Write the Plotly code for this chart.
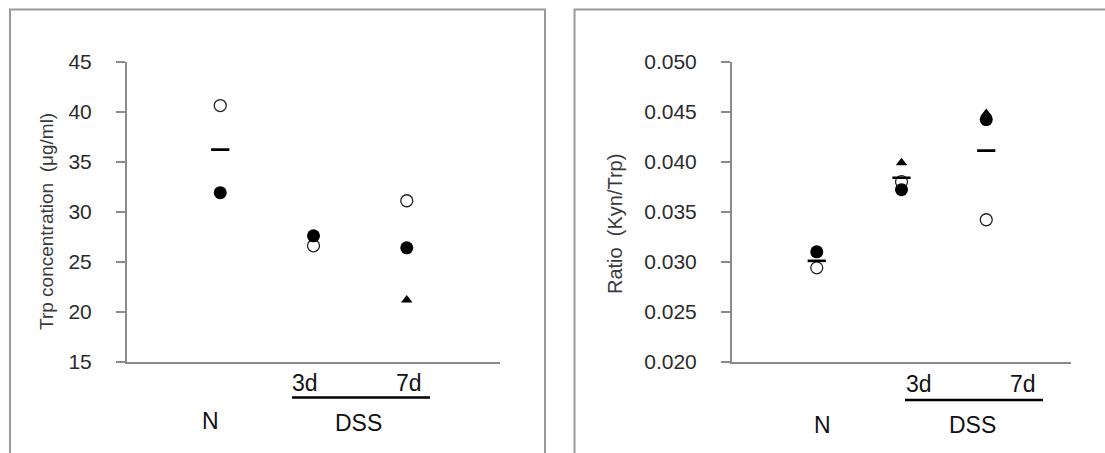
import plotly.graph_objects as go

W, H = 1105, 453

# Groups along the x axis
groups = ["N", "3d", "7d"]

# Trp concentration (ug/ml), one value per animal symbol
trp_open = [40.6, 26.6, 31.1]
trp_filled = [31.9, 27.6, 26.4]
trp_triangle = [None, None, 21.2]
trp_mean = [36.2, None, None]

# Kyn/Trp ratio
ratio_open = [0.0294, 0.0380, 0.0342]
ratio_filled = [0.0310, 0.0372, 0.0442]
ratio_triangle = [None, 0.0399, 0.0448]
ratio_mean = [0.0301, 0.0384, 0.0411]

y_ticks_trp = [15, 20, 25, 30, 35, 40, 45]
y_ticks_ratio = [0.020, 0.025, 0.030, 0.035, 0.040, 0.045, 0.050]


def px(x):
    return x / W


def py(y):
    return 1 - y / H


AXIS_GREY = "#8a8a8a"
FONT = "Liberation Sans, Arial, sans-serif"

fig = go.Figure()


def add_panel(xa, ya, open_v, filled_v, tri_v, mean_v):
    fig.add_trace(go.Scatter(
        x=groups, y=tri_v, mode="markers", xaxis=xa, yaxis=ya,
        marker=dict(symbol="triangle-up", size=10, color="#000000"),
        showlegend=False, hoverinfo="skip"))
    fig.add_trace(go.Scatter(
        x=groups, y=open_v, mode="markers", xaxis=xa, yaxis=ya,
        marker=dict(symbol="circle", size=12, color="#ffffff",
                    line=dict(color="#222222", width=1.3)),
        showlegend=False, hoverinfo="skip"))
    fig.add_trace(go.Scatter(
        x=groups, y=filled_v, mode="markers", xaxis=xa, yaxis=ya,
        marker=dict(symbol="circle", size=13, color="#000000",
                    line=dict(width=0)),
        showlegend=False, hoverinfo="skip"))
    fig.add_trace(go.Scatter(
        x=groups, y=mean_v, mode="markers", xaxis=xa, yaxis=ya,
        marker=dict(symbol="line-ew", size=13,
                    line=dict(color="#000000", width=2.6)),
        showlegend=False, hoverinfo="skip"))


add_panel("x", "y", trp_open, trp_filled, trp_triangle, trp_mean)
add_panel("x2", "y2", ratio_open, ratio_filled, ratio_triangle, ratio_mean)

ydom = [py(362), py(61.5)]
xcommon = dict(type="category", categoryarray=groups, range=[-1, 3],
               showgrid=False, zeroline=False, showticklabels=False,
               ticks="", showline=True, linecolor=AXIS_GREY, linewidth=2,
               fixedrange=True, automargin=False)
ycommon = dict(showgrid=False, zeroline=False, ticks="outside", ticklen=9,
               tickwidth=2, tickcolor=AXIS_GREY, showline=True,
               linecolor=AXIS_GREY, linewidth=2,
               tickfont=dict(family=FONT, size=21, color="#2b2b2b"),
               ticklabelstandoff=20, fixedrange=True, automargin=False)

fig.update_layout(
    template="none",
    width=W, height=H,
    margin=dict(l=0, r=0, t=0, b=0, pad=0, autoexpand=False),
    paper_bgcolor="#ffffff", plot_bgcolor="#ffffff",
    xaxis=dict(domain=[px(127), px(500)], anchor="y", **xcommon),
    yaxis=dict(domain=ydom, anchor="x", range=[15, 45],
               tickvals=y_ticks_trp, **ycommon),
    xaxis2=dict(domain=[px(732), px(1071)], anchor="y2", **xcommon),
    yaxis2=dict(domain=ydom, anchor="x2", range=[0.020, 0.050],
                tickvals=y_ticks_ratio, tickformat=".3f", **ycommon),
)

# Panel frames (open at the bottom edge of the page)
for x0, x1 in [(10, 545), (574.5, 1125)]:
    fig.add_shape(type="rect", xref="paper", yref="paper",
                  x0=px(x0), x1=px(x1), y0=py(500), y1=py(9.5),
                  line=dict(color="#9a9a9a", width=2), layer="below")

annotations = []


def label(text, x, y, size=23, angle=0, color="#111111"):
    annotations.append(dict(
        text=text, x=px(x), y=py(y), xref="paper", yref="paper",
        showarrow=False, textangle=angle, xanchor="center", yanchor="middle",
        font=dict(family=FONT, size=size, color=color)))


# Axis titles
label("Trp concentration  (\u03bcg/ml)", 46, 222, size=19, angle=-90,
      color="#3a3a3a")
label("Ratio  (Kyn/Trp)", 615, 224, size=20, angle=-90, color="#3a3a3a")

# Group labels under the left panel
label("N", 210, 421)
label("3d", 304.5, 383)
label("7d", 409, 383)
label("DSS", 358, 423)
# Group labels under the right panel
label("N", 822.5, 425)
label("3d", 919, 384)
label("7d", 1022.5, 384)
label("DSS", 972, 425)

fig.update_layout(annotations=annotations)

# Brackets joining the DSS time points
for x0, x1, y in [(292, 430, 397.5), (905, 1043, 400)]:
    fig.add_shape(type="line", xref="paper", yref="paper",
                  x0=px(x0), x1=px(x1), y0=py(y), y1=py(y),
                  line=dict(color="#000000", width=2.5))

fig.write_html("out.html")
